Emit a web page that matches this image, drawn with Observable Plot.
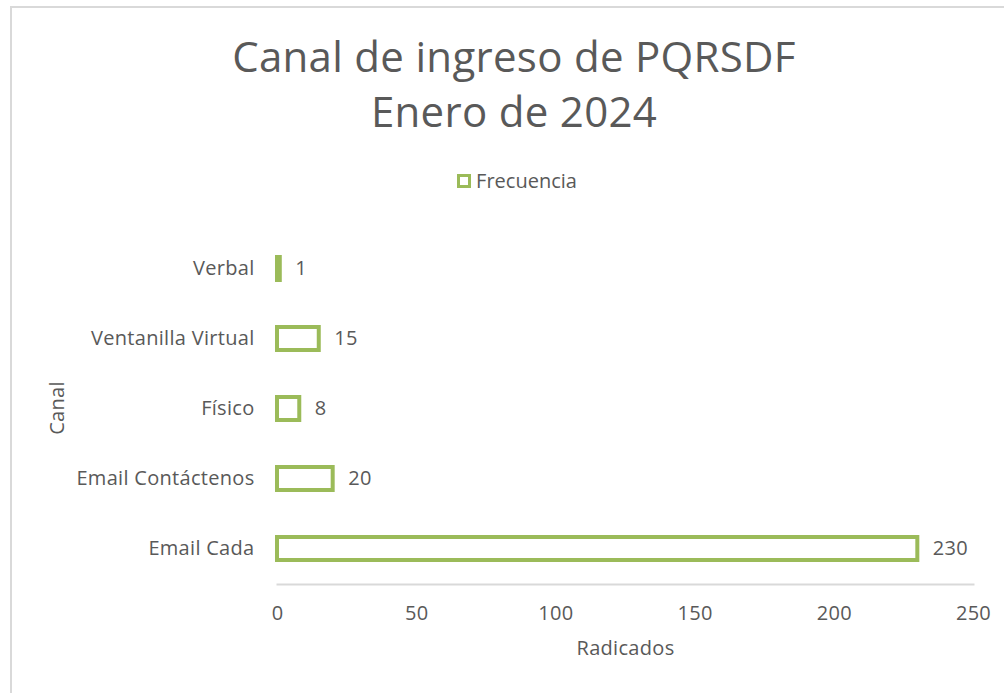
<!DOCTYPE html>
<html><head><meta charset="utf-8">
<script src="https://cdn.jsdelivr.net/npm/d3@7"></script>
<script src="https://cdn.jsdelivr.net/npm/@observablehq/plot@0.6"></script>
<style>
body{margin:0;background:#fff;font-family:"Open Sans",sans-serif;}
#page{position:relative;width:1004px;height:693px;overflow:hidden;}
#frame{position:absolute;left:10px;top:6px;width:1010px;height:700px;border-left:2px solid #d9d9d9;border-top:2px solid #d9d9d9;}
#title{position:absolute;left:0;top:28px;width:1028px;text-align:center;font-size:42px;line-height:55px;color:#595959;letter-spacing:0.3px;}
#legend{position:absolute;left:0;top:170px;width:1034px;text-align:center;font-size:20px;line-height:22px;color:#595959;}
#legend .sw{display:inline-block;width:8px;height:8px;border:3px solid #9bbb59;vertical-align:0px;margin-right:5px;}
#chart{position:absolute;left:0;top:200px;}
svg{background:transparent;}
svg text{letter-spacing:0.3px;}
</style></head>
<body><div id="page"><div id="frame"></div>
<div id="title">Canal de ingreso de PQRSDF<br>Enero de 2024</div>
<div id="legend"><span class="sw"></span>Frecuencia</div>
<div id="chart"></div></div>
<script>
const categories = ["Verbal","Ventanilla Virtual","Físico","Email Contáctenos","Email Cada"];
const values = [1,15,8,20,230];
const xTicks = [0,50,100,150,200,250];
const data = categories.map((c,i)=>({canal:c, n:values[i]}));
const green = "#9bbb59", grey = "#595959";
const plot = Plot.plot({
  width:1004, height:493,
  marginLeft:277, marginRight:31, marginTop:31, marginBottom:109,
  style:{fontFamily:"Open Sans, sans-serif", fontSize:"20px", color:grey, background:"transparent"},
  x:{domain:[0,250], ticks:xTicks},
  y:{domain:categories, range:[8,408], padding:0.674},
  marks:[
    Plot.axisX({ticks:xTicks, tickSize:0, tickPadding:21, label:"Radicados", labelAnchor:"center", labelArrow:"none", labelOffset:70, fontSize:20, fill:grey}),
    Plot.axisY({tickSize:0, tickPadding:23, label:"Canal", labelAnchor:"center", labelArrow:"none", labelOffset:228, fontSize:20, fill:grey}),
    Plot.frame({anchor:"bottom", stroke:"#d9d9d9", strokeWidth:2}),
    Plot.barX(data,{x:"n", y:"canal", fill:"white", stroke:green, strokeWidth:4}),
    Plot.text(data,{x:"n", y:"canal", text:d=>String(d.n), textAnchor:"start", dx:15, fill:grey, fontSize:20})
  ]
});
document.getElementById("chart").appendChild(plot);
</script></body></html>
